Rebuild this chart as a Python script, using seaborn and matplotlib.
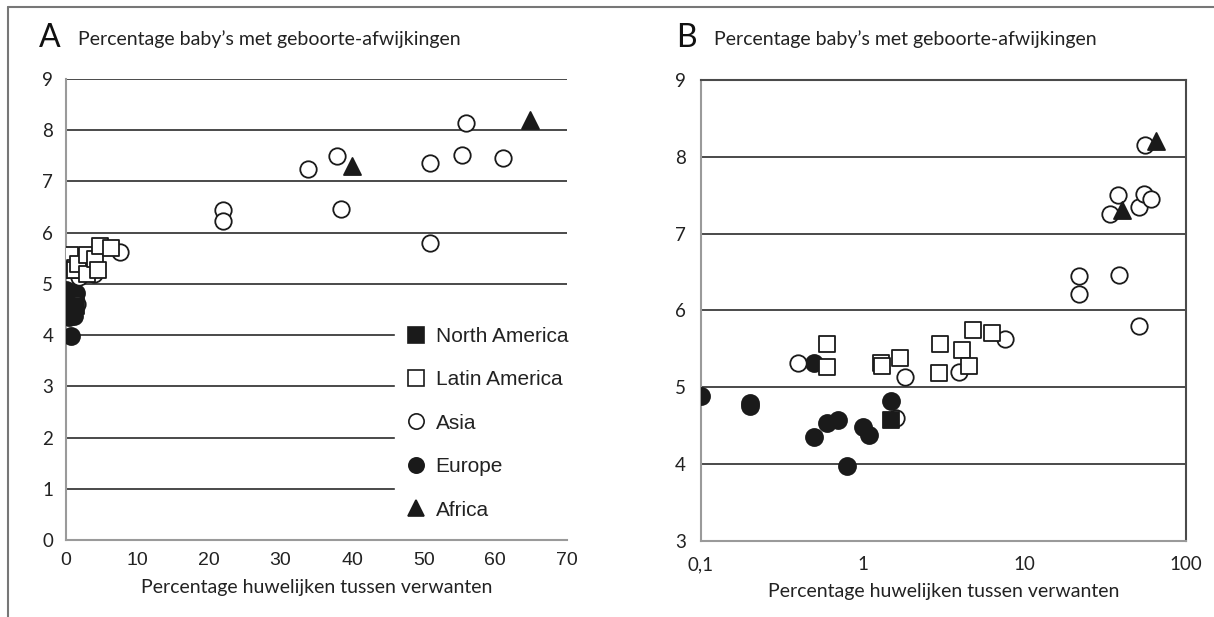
import matplotlib
matplotlib.use("Agg")
import matplotlib.pyplot as plt
from matplotlib.lines import Line2D
import seaborn as sns
import pandas as pd
import numpy as np

# ---- data (percentage consanguineous marriages, percentage babies with birth defects)
na_x = [1.5]
na_y = [4.57]

latin_x = [0.6, 0.6, 1.3, 1.32, 1.7, 3.0, 2.97, 4.13, 4.56, 4.83, 6.28]
latin_y = [5.56, 5.27, 5.31, 5.28, 5.38, 5.56, 5.19, 5.48, 5.28, 5.74, 5.71]

asia_x = [0.4, 1.6, 1.83, 3.94, 7.6, 21.9, 21.9, 33.8, 37.9, 38.4, 50.9, 50.9, 55.3, 55.9, 61.1]
asia_y = [5.31, 4.60, 5.14, 5.20, 5.63, 6.45, 6.22, 7.25, 7.50, 6.46, 7.35, 5.80, 7.52, 8.15, 7.45]

europe_x = [0.1, 0.2, 0.2, 0.5, 0.5, 0.6, 0.7, 0.8, 1.0, 1.1, 1.5]
europe_y = [4.89, 4.80, 4.76, 5.32, 4.35, 4.54, 4.58, 3.98, 4.48, 4.38, 4.82]

africa_x = [40.0, 64.8]
africa_y = [7.31, 8.20]

regions = ["North America", "Latin America", "Asia", "Europe", "Africa"]
title_text = "Percentage baby\u2019s met geboorte-afwijkingen"
xlabel_text = "Percentage huwelijken tussen verwanten"
a_xticks = [0, 10, 20, 30, 40, 50, 60, 70]
a_yticks = [0, 1, 2, 3, 4, 5, 6, 7, 8, 9]
b_xticks = [0.1, 1, 10, 100]
b_xticklabels = ["0,1", "1", "10", "100"]
b_yticks = [3, 4, 5, 6, 7, 8, 9]

frames = []
for name, xs, ys in [("North America", na_x, na_y), ("Latin America", latin_x, latin_y),
                     ("Asia", asia_x, asia_y), ("Europe", europe_x, europe_y),
                     ("Africa", africa_x, africa_y)]:
    frames.append(pd.DataFrame({"x": xs, "y": ys, "region": name}))
df = pd.concat(frames, ignore_index=True)

sns.set_theme(style="white")
plt.rcParams["font.family"] = ["Lato", "DejaVu Sans"]

INK = "#1a1a1a"
GRID = "#4a4a4a"
SPINE = "#9a9a9a"

styles = {
    "North America": dict(marker="s", color=INK, edgecolor=INK, s=120),
    "Latin America": dict(marker="s", color="white", edgecolor=INK, s=130),
    "Asia": dict(marker="o", color="white", edgecolor=INK, s=140),
    "Europe": dict(marker="o", color=INK, edgecolor=INK, s=150),
    "Africa": dict(marker="^", color=INK, edgecolor=INK, s=150),
}
draw_order = ["Europe", "Asia", "Latin America", "North America", "Africa"]

fig = plt.figure(figsize=(12.14, 6.17), dpi=100)
fig.patch.set_facecolor("white")

axA = fig.add_axes([0.0541, 0.1248, 0.4129, 0.7472])
axB = fig.add_axes([0.5774, 0.1232, 0.3996, 0.7472])

for ax in (axA, axB):
    for reg in draw_order:
        sub = df[df["region"] == reg]
        st = styles[reg]
        sns.scatterplot(data=sub, x="x", y="y", ax=ax, marker=st["marker"], color=st["color"],
                        edgecolor=st["edgecolor"], s=st["s"], linewidth=1.3, zorder=3,
                        legend=False)
    ax.set_xlabel(xlabel_text, fontsize=14, color="#222222", labelpad=7)
    ax.set_ylabel("")
    ax.yaxis.grid(True, color=GRID, linewidth=1.4, zorder=1)
    ax.xaxis.grid(False)
    ax.set_axisbelow(True)
    ax.tick_params(axis="both", which="major", direction="out", length=5, width=1,
                   color=SPINE, labelcolor="#222222")
    ax.tick_params(axis="y", labelsize=13.5, pad=4)

# ---- panel A
axA.set_xlim(0, 70)
axA.set_ylim(0, 9)
axA.set_xticks(a_xticks)
axA.set_yticks(a_yticks)
for lab in axA.get_xticklabels():
    lab.set_fontfamily(["Liberation Sans", "DejaVu Sans"])
    lab.set_fontsize(14)
axA.tick_params(axis="x", pad=4)
for side in ("top", "right"):
    axA.spines[side].set_visible(False)
for side in ("left", "bottom"):
    axA.spines[side].set_color(SPINE)
    axA.spines[side].set_linewidth(1.5)
    axA.spines[side].set_zorder(2)

handles = []
for reg in regions:
    st = styles[reg]
    handles.append(Line2D([], [], linestyle="none", marker=st["marker"], markersize=11,
                          markerfacecolor=st["color"], markeredgecolor=st["edgecolor"],
                          markeredgewidth=1.2, label=reg))
leg = axA.legend(handles=handles, loc="upper left", bbox_to_anchor=(0.657, 0.480),
                 frameon=True, facecolor="white", edgecolor="white", framealpha=1,
                 fancybox=False, borderaxespad=0, borderpad=0.4, handlelength=1.2,
                 handletextpad=0.35, labelspacing=1.17,
                 prop={"family": ["Liberation Sans", "DejaVu Sans"], "size": 15})
leg.set_zorder(5)
for t in leg.get_texts():
    t.set_color("#222222")

# ---- panel B
axB.set_xscale("log")
axB.set_xlim(0.1, 100)
axB.set_ylim(3, 9)
axB.set_xticks(b_xticks)
axB.set_xticklabels(b_xticklabels)
axB.xaxis.set_minor_locator(matplotlib.ticker.NullLocator())
axB.set_yticks(b_yticks)
axB.tick_params(axis="x", labelsize=13.5, pad=6)
axB.tick_params(axis="y", pad=6)
for side in ("top", "right"):
    axB.spines[side].set_color(GRID)
    axB.spines[side].set_linewidth(1.5)
for side in ("left", "bottom"):
    axB.spines[side].set_color(SPINE)
    axB.spines[side].set_linewidth(1.5)

# ---- titles
fig.text(0.032, 0.938, "A", fontsize=23, color="#111111", va="center", ha="left")
fig.text(0.064, 0.936, title_text, fontsize=14, color="#222222", va="center", ha="left")
fig.text(0.557, 0.938, "B", fontsize=23, color="#111111", va="center", ha="left")
fig.text(0.588, 0.936, title_text, fontsize=14, color="#222222", va="center", ha="left")

# ---- outer frame lines
fig.add_artist(Line2D([8 / 1214, 1], [1 - 7 / 617, 1 - 7 / 617], color="#777777", linewidth=1.5,
                      transform=fig.transFigure))
fig.add_artist(Line2D([8 / 1214, 8 / 1214], [0, 1 - 7 / 617], color="#777777", linewidth=1.5,
                      transform=fig.transFigure))

fig.savefig("out.png", dpi=100, facecolor="white")
